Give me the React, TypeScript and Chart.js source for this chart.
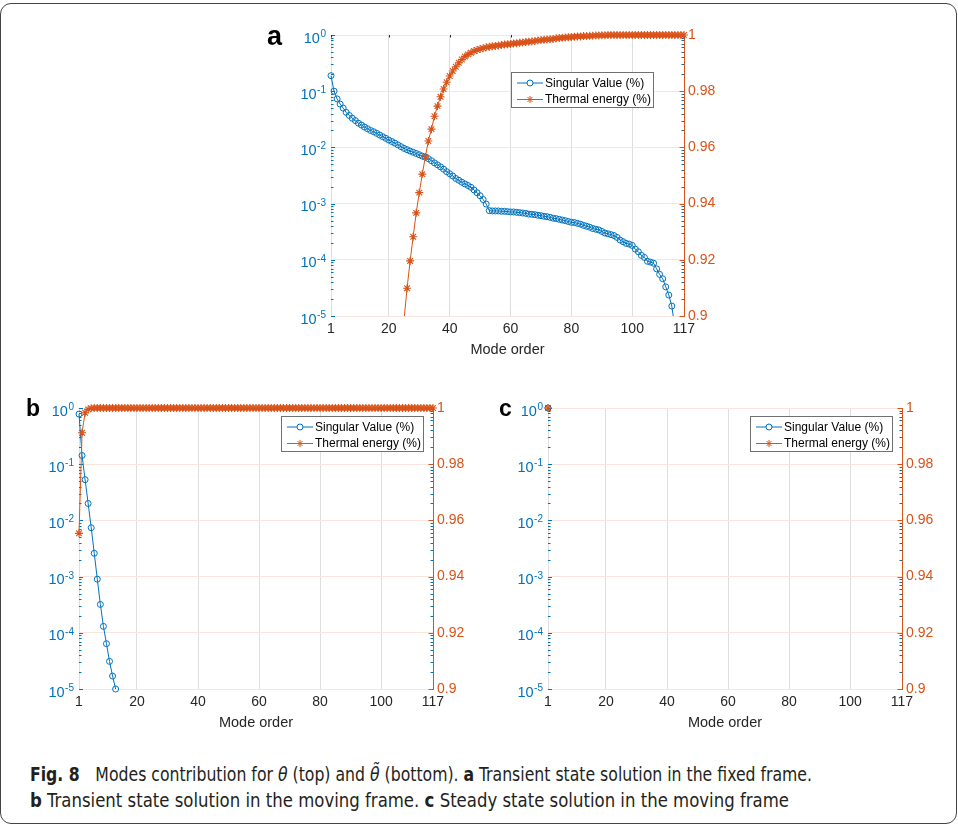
import React, { useEffect, useLayoutEffect, useRef } from 'react';
import { Chart, registerables } from 'chart.js';

Chart.register(...registerables);

const BLUE = '#0072BD';
const ORANGE = '#D95319';
const GRID_X = 'rgb(222,222,222)';
const GRID_Y = 'rgb(249,229,221)';
const TEXT = '#262626';
const FONT = '"Liberation Sans", Arial, Helvetica, sans-serif';

const X_TICKS = [1, 20, 40, 60, 80, 100, 117];
const X_MIN = 1;
const X_MAX = 117;
const LOG_EXPONENTS = [0, -1, -2, -3, -4, -5];
const LOG_MIN = 1e-5;
const LOG_MAX = 1;
const RIGHT_MIN = 0.9;
const RIGHT_MAX = 1;
const RIGHT_STEP = 0.02;
const LEGEND_LABELS = ['Singular Value (%)', 'Thermal energy (%)'];
const X_TITLE = 'Mode order';

// Panel a: singular values (log axis) per mode 1..117
const SV_A = [
  0.189, 0.100, 0.073, 0.059, 0.050, 0.042, 0.037, 0.033, 0.030, 0.027,
  0.025, 0.023, 0.0215, 0.020, 0.019, 0.0178, 0.0166, 0.0155, 0.0145, 0.0135,
  0.0127, 0.0119, 0.0111, 0.0103, 0.0096, 0.0091, 0.0086, 0.0082, 0.0078, 0.0074,
  0.0070, 0.0067, 0.0063, 0.0058, 0.0053, 0.0049, 0.0045, 0.0041, 0.0037, 0.0034,
  0.0031, 0.0028, 0.0026, 0.0024, 0.00224, 0.0021, 0.00195, 0.00175, 0.00156, 0.00138,
  0.00118, 0.00098, 0.00075, 0.00074, 0.00074, 0.00074, 0.00073, 0.00073, 0.00072, 0.00071,
  0.00071, 0.00070, 0.00069, 0.00068, 0.00067, 0.00065, 0.000645, 0.000635, 0.00062, 0.00061,
  0.000595, 0.000585, 0.00057, 0.00055, 0.00054, 0.000525, 0.00051, 0.000497, 0.00048, 0.000465,
  0.00046, 0.000445, 0.00043, 0.00041, 0.000396, 0.00038, 0.00036, 0.00035, 0.00034, 0.00032,
  0.00030, 0.00029, 0.00028, 0.00027, 0.00025, 0.000224, 0.00021, 0.000196, 0.00019, 0.00018,
  0.000155, 0.000139, 0.00012, 0.00011, 0.000094, 0.000091, 0.000087, 0.000069, 0.000055, 0.000046,
  0.000033, 0.0000236, 0.000015, 0.000006, 0.000003, 0.0000015, 0.0000008,
];

// Panel a: cumulative thermal energy (right axis) per mode 1..117
const TE_A = [
  0.412, 0.538, 0.612, 0.667, 0.709, 0.741, 0.768, 0.789, 0.806, 0.821,
  0.833, 0.844, 0.853, 0.861, 0.868, 0.874, 0.879, 0.883, 0.886, 0.889,
  0.891, 0.893, 0.895, 0.8965, 0.8986,
  0.9099, 0.9196, 0.9282, 0.9367, 0.9439, 0.9505, 0.9566, 0.9623, 0.9665, 0.9711,
  0.9747, 0.9780, 0.9808, 0.9832, 0.9854, 0.9872, 0.9887, 0.9901, 0.9913, 0.9923,
  0.9931, 0.9937, 0.9943, 0.9947, 0.9950, 0.9953, 0.9956, 0.9958, 0.9960, 0.9961,
  0.9963, 0.9964, 0.9966, 0.9967, 0.9968, 0.9970, 0.9971, 0.9972, 0.9973, 0.9975,
  0.9976, 0.9977, 0.9979, 0.9980, 0.9982, 0.9983, 0.9984, 0.9985, 0.9986, 0.9988,
  0.9989, 0.9990, 0.9991, 0.9992, 0.9993, 0.9994, 0.9995, 0.9995, 0.9996, 0.9996,
  0.9997, 0.9997, 0.9998, 0.9998, 0.9999, 0.9999,
  1, 1, 1, 1, 1, 1, 1, 1, 1, 1, 1, 1, 1,
  1, 1, 1, 1, 1, 1, 1, 1, 1, 1, 1, 1, 1,
];

// Panel b
const SV_B = [0.78, 0.143, 0.053, 0.020, 0.0074, 0.0026, 0.00090, 0.00032, 0.00013, 0.000064, 0.000031, 0.000017, 0.00001];
const TE_B = [
  0.9554, 0.9912, 0.9983, 0.9995, 0.9999,
  1, 1, 1, 1, 1, 1, 1, 1, 1, 1, 1, 1, 1, 1, 1, 1,
  1, 1, 1, 1, 1, 1, 1, 1, 1, 1, 1, 1, 1, 1, 1, 1,
  1, 1, 1, 1, 1, 1, 1, 1, 1, 1, 1, 1, 1, 1, 1, 1,
  1, 1, 1, 1, 1, 1, 1, 1, 1, 1, 1, 1, 1, 1, 1, 1,
  1, 1, 1, 1, 1, 1, 1, 1, 1, 1, 1, 1, 1, 1, 1, 1,
  1, 1, 1, 1, 1, 1, 1, 1, 1, 1, 1, 1, 1, 1, 1, 1,
  1, 1, 1, 1, 1, 1, 1, 1, 1, 1, 1, 1, 1, 1, 1, 1,
];

// Panel c
const SV_C = [1];
const TE_C = [1];

type Rect = { l: number; t: number; r: number; b: number };
type PanelSpec = {
  left: number; top: number; width: number; height: number;
  plot: Rect;
  sv: number[]; te: number[];
  legend: { x: number; y: number };
  clipBottom: number;
  topTicks: boolean;
};

function drawStar(ctx: CanvasRenderingContext2D, x: number, y: number, r: number) {
  ctx.beginPath();
  for (let k = 0; k < 4; k++) {
    const a = (k * Math.PI) / 4;
    ctx.moveTo(x - r * Math.cos(a), y - r * Math.sin(a));
    ctx.lineTo(x + r * Math.cos(a), y + r * Math.sin(a));
  }
  ctx.stroke();
}

function makeDecor(spec: PanelSpec) {
  return {
    id: 'decor',
    beforeDatasetsDraw(chart: any) {
      const { ctx, chartArea: ca } = chart;
      const y = chart.scales.y, y1 = chart.scales.y1, x = chart.scales.x;
      ctx.save();
      ctx.lineWidth = 1;
      ctx.strokeStyle = BLUE;
      ctx.beginPath();
      for (let e = -5; e <= 0; e++) {
        for (let m = 1; m <= 9; m++) {
          const v = m * Math.pow(10, e);
          if (v > 1.0000001) break;
          const py = Math.round(y.getPixelForValue(v)) + 0.5;
          const len = m === 1 ? 4 : 2.5;
          ctx.moveTo(ca.left, py); ctx.lineTo(ca.left + len, py);
          ctx.moveTo(ca.right, py); ctx.lineTo(ca.right - len, py);
        }
      }
      ctx.stroke();
      ctx.strokeStyle = ORANGE;
      ctx.beginPath();
      y1.ticks.forEach((t: any) => {
        const py = Math.round(y1.getPixelForValue(t.value)) + 0.5;
        ctx.moveTo(ca.right, py); ctx.lineTo(ca.right - 4.5, py);
      });
      ctx.stroke();
      if (spec.topTicks) {
        ctx.strokeStyle = TEXT;
        ctx.beginPath();
        x.ticks.forEach((t: any) => {
          const px = Math.round(x.getPixelForValue(t.value)) + 0.5;
          ctx.moveTo(px, ca.top); ctx.lineTo(px, ca.top + 2.5);
        });
        ctx.stroke();
      }
      ctx.restore();
    },
    afterDraw(chart: any) {
      const { ctx, chartArea: ca } = chart;
      const y = chart.scales.y;
      ctx.save();
      // left log labels 10^e
      ctx.fillStyle = BLUE;
      LOG_EXPONENTS.forEach((e) => {
        const py = y.getPixelForValue(Math.pow(10, e));
        const exp = String(e);
        ctx.font = `10px ${FONT}`;
        const we = ctx.measureText(exp).width;
        const xr = ca.left - 5;
        ctx.textAlign = 'left';
        ctx.textBaseline = 'alphabetic';
        ctx.fillText(exp, xr - we, py + 2);
        ctx.font = `14.5px ${FONT}`;
        ctx.textAlign = 'right';
        ctx.fillText('10', xr - we - 0.5, py + 7.5);
      });
      // legend
      const lx = spec.legend.x - spec.left;
      const ly = spec.legend.y - spec.top;
      const LW = 143, LH = 36;
      ctx.fillStyle = '#ffffff';
      ctx.fillRect(lx, ly, LW, LH);
      ctx.strokeStyle = '#707070';
      ctx.lineWidth = 1;
      ctx.strokeRect(lx + 0.5, ly + 0.5, LW - 1, LH - 1);
      const rows = [
        { label: LEGEND_LABELS[0], color: BLUE, star: false, dy: 11 },
        { label: LEGEND_LABELS[1], color: ORANGE, star: true, dy: 27.5 },
      ];
      rows.forEach((r) => {
        const cy = ly + r.dy;
        ctx.strokeStyle = r.color;
        ctx.lineWidth = 1;
        ctx.beginPath();
        ctx.moveTo(lx + 6, cy); ctx.lineTo(lx + 32, cy);
        ctx.stroke();
        if (r.star) {
          drawStar(ctx, lx + 19, cy, 3.5);
        } else {
          ctx.fillStyle = '#fff';
          ctx.beginPath();
          ctx.arc(lx + 19, cy, 3, 0, Math.PI * 2);
          ctx.fill();
          ctx.stroke();
        }
        ctx.fillStyle = '#000';
        ctx.font = `12px ${FONT}`;
        ctx.textAlign = 'left';
        ctx.textBaseline = 'middle';
        ctx.fillText(r.label, lx + 34, cy + 0.5);
      });
      ctx.restore();
    },
  };
}

function Panel({ spec }: { spec: PanelSpec }) {
  const ref = useRef<HTMLCanvasElement>(null);
  useEffect(() => {
    const canvas = ref.current!;
    const pl = spec.plot.l - spec.left;
    const pt = spec.plot.t - spec.top;
    const pr = spec.plot.r - spec.left;
    const pb = spec.plot.b - spec.top;
    const rightW = spec.width - pr;
    const xh = spec.height - pb;
    const clip = { left: 6, right: 6, top: 6, bottom: spec.clipBottom };
    const cfg: any = {
      type: 'line',
      data: {
        datasets: [
          {
            label: LEGEND_LABELS[1],
            data: spec.te.map((v, i) => ({ x: i + 1, y: v })),
            yAxisID: 'y1', xAxisID: 'x',
            borderColor: ORANGE, borderWidth: 1,
            pointStyle: 'star', pointRadius: 4,
            pointBorderColor: ORANGE, pointBackgroundColor: ORANGE, pointBorderWidth: 1.1,
            fill: false, tension: 0, clip, order: 0,
          },
          {
            label: LEGEND_LABELS[0],
            data: spec.sv.map((v, i) => ({ x: i + 1, y: v })),
            yAxisID: 'y', xAxisID: 'x',
            borderColor: BLUE, borderWidth: 1,
            pointStyle: 'circle', pointRadius: 3,
            pointBorderColor: BLUE, pointBackgroundColor: 'rgba(0,0,0,0)', pointBorderWidth: 1,
            fill: false, tension: 0, clip, order: 1,
          },
        ],
      },
      options: {
        animation: false,
        responsive: false,
        maintainAspectRatio: false,
        devicePixelRatio: 1,
        events: [],
        layout: { padding: { top: pt, left: 0, right: 0, bottom: 0 } },
        plugins: { legend: { display: false }, tooltip: { enabled: false }, title: { display: false } },
        scales: {
          x: {
            type: 'linear', position: 'bottom', min: X_MIN, max: X_MAX,
            afterBuildTicks: (s: any) => { s.ticks = X_TICKS.map((v) => ({ value: v })); },
            ticks: {
              color: TEXT, font: { size: 14, family: FONT }, padding: 5,
              maxRotation: 0, autoSkip: false, callback: (v: any) => String(v),
            },
            grid: { color: GRID_X, drawTicks: false, lineWidth: 1 },
            border: { display: false },
            title: {
              display: true, text: X_TITLE, color: TEXT,
              font: { size: 14.5, family: FONT }, padding: { top: 0, bottom: xh - 42.7 },
            },
            afterFit: (s: any) => { s.height = xh; },
          },
          y: {
            type: 'logarithmic', position: 'left', min: LOG_MIN, max: LOG_MAX,
            ticks: { display: false },
            grid: { display: false },
            border: { display: false },
            afterFit: (s: any) => { s.width = pl; },
          },
          y1: {
            type: 'linear', position: 'right', min: RIGHT_MIN, max: RIGHT_MAX,
            ticks: {
              stepSize: RIGHT_STEP, color: ORANGE, font: { size: 14, family: FONT }, padding: 4,
              callback: (v: any) => String(+(+v).toFixed(2)),
            },
            grid: { color: GRID_Y, drawTicks: false, lineWidth: 1 },
            border: { display: true, color: ORANGE, width: 1 },
            afterFit: (s: any) => { s.width = rightW; },
          },
        },
      },
      plugins: [makeDecor(spec)],
    };
    const chart = new Chart(canvas, cfg);
    return () => chart.destroy();
  }, []);
  return (
    <canvas
      ref={ref}
      width={spec.width}
      height={spec.height}
      style={{ position: 'absolute', left: spec.left, top: spec.top, width: spec.width, height: spec.height }}
    />
  );
}

const PANELS: PanelSpec[] = [
  {
    left: 230, top: 15, width: 540, height: 360,
    plot: { l: 331, t: 35, r: 684, b: 316 },
    sv: SV_A, te: TE_A, legend: { x: 511, y: 72 }, clipBottom: 0, topTicks: true,
  },
  {
    left: 10, top: 395, width: 470, height: 345,
    plot: { l: 79, t: 408, r: 433, b: 689 },
    sv: SV_B, te: TE_B, legend: { x: 281, y: 416 }, clipBottom: 4, topTicks: false,
  },
  {
    left: 480, top: 395, width: 470, height: 345,
    plot: { l: 548, t: 408, r: 902, b: 689 },
    sv: SV_C, te: TE_C, legend: { x: 750, y: 416 }, clipBottom: 4, topTicks: false,
  },
];

const LETTERS = [
  { t: 'a', x: 267, base: 45.5, size: 27 },
  { t: 'b', x: 26, base: 416, size: 23 },
  { t: 'c', x: 499, base: 416, size: 23 },
];

function FitLine({ top, width, children }: { top: number; width: number; children: React.ReactNode }) {
  const ref = useRef<HTMLDivElement>(null);
  useLayoutEffect(() => {
    const fit = () => {
      const el = ref.current;
      if (!el) return;
      el.style.transform = 'none';
      const w = el.getBoundingClientRect().width;
      if (w > 0) el.style.transform = `scaleX(${width / w})`;
    };
    fit();
    const d: any = document;
    if (d.fonts && d.fonts.ready) d.fonts.ready.then(fit);
  }, []);
  return (
    <div
      ref={ref}
      style={{
        position: 'absolute', left: 30, top, whiteSpace: 'nowrap', display: 'inline-block',
        transformOrigin: '0 0', fontSize: 20, lineHeight: '20px', color: '#231f20',
        fontFamily: '"Liberation Sans Narrow", "DejaVu Sans Condensed", "Liberation Sans", Arial, sans-serif',
      }}
    >
      {children}
    </div>
  );
}

export default function App() {
  return (
    <div style={{ position: 'absolute', left: 0, top: 0, width: 958, height: 827, background: '#fff', overflow: 'hidden' }}>
      <div
        style={{
          position: 'absolute', left: 0, top: 3, width: 957, height: 821, boxSizing: 'border-box',
          border: '1.4px solid #444', borderRadius: 11,
        }}
      />
      {PANELS.map((p, i) => <Panel key={i} spec={p} />)}
      {LETTERS.map((l) => (
        <div
          key={l.t}
          style={{
            position: 'absolute', left: l.x, top: l.base - 0.8465 * l.size, fontSize: l.size,
            lineHeight: `${l.size}px`, fontWeight: 'bold', fontFamily: FONT, color: '#000',
          }}
        >
          {l.t}
        </div>
      ))}
      <FitLine top={764.3} width={782}>
        <b>Fig. 8</b>{'\u2003'}Modes contribution for <i>θ</i> (top) and <i>θ̃</i> (bottom). <b>a</b> Transient state solution in the fixed frame.
      </FitLine>
      <FitLine top={790.3} width={759}>
        <b>b</b> Transient state solution in the moving frame. <b>c</b> Steady state solution in the moving frame
      </FitLine>
    </div>
  );
}
